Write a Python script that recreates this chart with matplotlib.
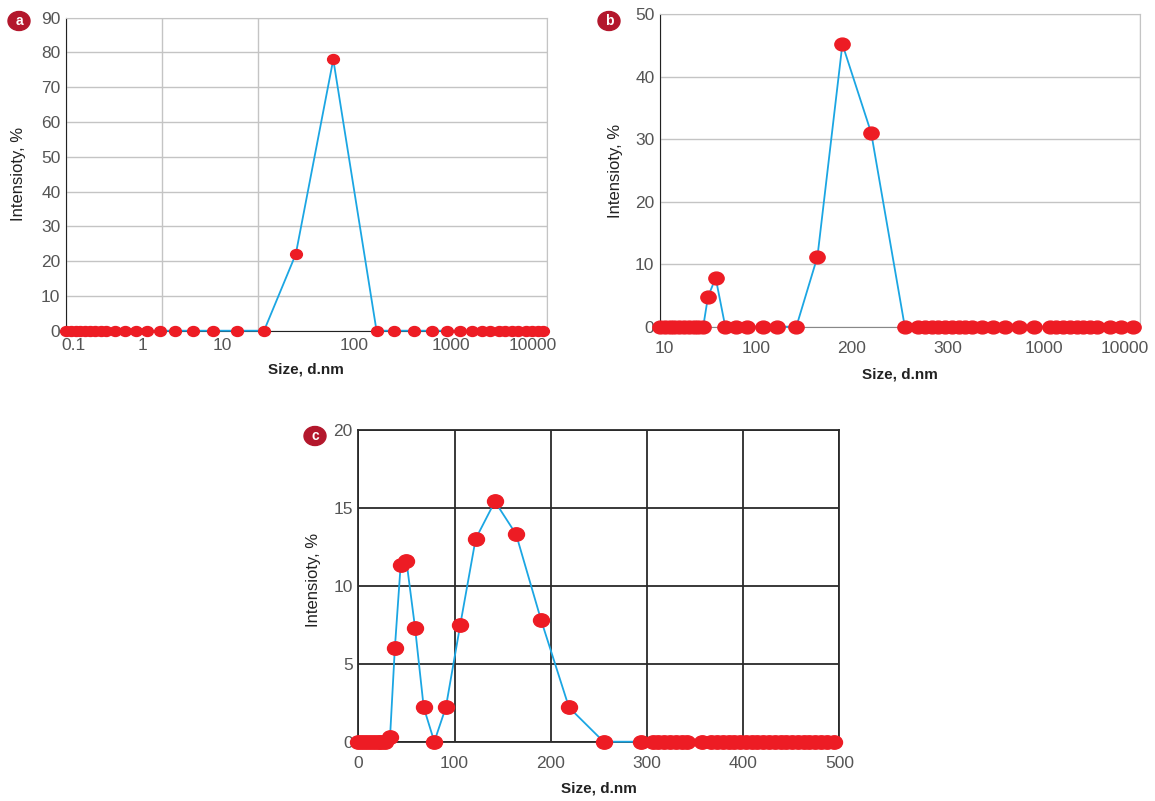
import numpy as np
import matplotlib
matplotlib.use("Agg")
import matplotlib.pyplot as plt
from matplotlib.patches import Ellipse
from matplotlib.path import Path

plt.rcParams['font.family'] = ['Liberation Sans', 'DejaVu Sans']

# panel a : positions along the (non-uniform) size axis, in grid cells
a_pos = [0.0, 0.05, 0.10, 0.15, 0.20, 0.25, 0.30, 0.36, 0.42, 0.51, 0.61, 0.73, 0.84,
         0.98, 1.13, 1.32, 1.53, 1.78, 2.06, 2.39, 2.78, 3.23, 3.41, 3.62, 3.81, 3.96,
         4.10, 4.22, 4.33, 4.41, 4.50, 4.57, 4.64, 4.70, 4.78, 4.85, 4.91, 4.96]
a_int = [0] * 19 + [22, 78] + [0] * 17
a_tickpos = [0.083, 0.80, 1.63, 3.0, 4.0, 4.85]
a_ticklab = ['0.1', '1', '10', '100', '1000', '10000']

# panel b
b_pos = [0.0, 0.05, 0.10, 0.15, 0.20, 0.25, 0.30, 0.35, 0.40, 0.45,
         0.50, 0.58, 0.68, 0.79, 0.91, 1.07, 1.22, 1.42, 1.64, 1.90, 2.20, 2.55,
         2.69, 2.76, 2.83, 2.90, 2.97, 3.04, 3.11, 3.18, 3.25,
         3.35, 3.47, 3.59, 3.74, 3.90,
         4.06, 4.13, 4.20, 4.27, 4.34, 4.41, 4.48, 4.55, 4.69, 4.80, 4.93]
b_int = [0] * 10 + [4.8, 7.8] + [0] * 6 + [11.2, 45.2, 31.0] + [0] * 26
b_tickpos = [0.05, 1, 2, 3, 4, 4.84]
b_ticklab = ['10', '100', '200', '300', '1000', '10000']

# panel c : real sizes, nm
c_size = [0, 4, 8, 12, 16, 20, 24, 28, 33, 38, 44, 50, 59, 68, 79, 91, 106, 122, 142,
          164, 190, 219, 255, 294, 306, 312, 318, 324, 330, 336, 342, 357, 367, 373,
          379, 385, 391, 397, 403, 409, 414, 421, 427, 433, 439, 445, 451, 457, 463,
          469, 475, 481, 487, 494]
c_int = [0] * 8 + [0.3, 6.0, 11.3, 11.6, 7.3, 2.2, 0, 2.2, 7.5, 13.0, 15.4, 13.3, 7.8,
                   2.2, 0] + [0] * 31

W, H = 1155, 801
fig = plt.figure(figsize=(W / 100, H / 100), dpi=100)

# slightly flattened circle marker
circ = Path.unit_circle()
oval = Path(circ.vertices * np.array([1.0, 0.84]), circ.codes)

red = '#ed1c24'
blue = '#1ba6e3'
tickc = '#555555'


def box(l, t, r, b):
    return [l / W, 1 - b / H, (r - l) / W, (b - t) / H]


def panel(rect, x, y, ms, gridc, gridw, ylab_xy, xlab_y):
    ax = fig.add_axes(rect)
    ax.plot(x, y, color=blue, lw=1.3, marker=oval, ms=ms, mfc=red, mec=red,
            zorder=4, clip_on=False)
    ax.tick_params(length=0, labelsize=12.5, colors=tickc)
    ax.tick_params(axis='y', pad=4)
    ax.grid(axis='y', color=gridc, lw=gridw)
    ax.set_axisbelow(True)
    ax.set_ylabel('Intensioty, %', fontsize=12, color='#222222')
    ax.set_xlabel('Size, d.nm', fontsize=11, color='#222222', fontweight='bold')
    ax.yaxis.set_label_coords(*ylab_xy)
    ax.xaxis.set_label_coords(0.5, xlab_y)
    return ax


# a
ax = panel(box(66, 17.7, 546.7, 330.7), a_pos, a_int, 8.5, '#c4c4c4', 1.0,
           (-0.083, 0.5), -0.103)
ax.set_xlim(0, 5)
ax.set_ylim(0, 90)
ax.set_yticks(range(0, 91, 10))
ax.set_xticks(a_tickpos)
ax.set_xticklabels(a_ticklab)
ax.set_xticks(range(6), minor=True)
ax.grid(which='minor', axis='x', color='#c4c4c4', lw=1.0)
ax.tick_params(which='minor', length=0)
ax.tick_params(axis='x', pad=5)
for s in ['top', 'right']:
    ax.spines[s].set_color('#c4c4c4')
ax.spines['left'].set_color('#222222')
ax.spines['bottom'].set_color('#222222')

# b
ax = panel(box(660, 14.2, 1140, 326.7), b_pos, b_int, 11, '#c4c4c4', 1.0,
           (-0.077, 0.5), -0.132)
ax.set_xlim(0, 5)
ax.set_ylim(0, 50)
ax.set_yticks(range(0, 51, 10))
ax.set_xticks(b_tickpos)
ax.set_xticklabels(b_ticklab)
ax.set_xticks(range(6), minor=True)
ax.grid(which='minor', axis='x', color='#c4c4c4', lw=1.0)
ax.tick_params(which='minor', length=0)
ax.tick_params(axis='x', pad=10)
for s in ['top', 'right']:
    ax.spines[s].set_color('#c4c4c4')
ax.spines['left'].set_color('#222222')
ax.spines['bottom'].set_color('#888888')

# c
ax = panel(box(358.3, 429.7, 839.3, 741.7), c_size, c_int, 11.5, '#2a2a2a', 1.3,
           (-0.077, 0.52), -0.126)
ax.set_xlim(0, 500)
ax.set_ylim(0, 20)
ax.set_yticks(range(0, 21, 5))
ax.set_xticks(range(0, 501, 100))
ax.grid(axis='x', color='#2a2a2a', lw=1.3)
ax.tick_params(axis='x', pad=10)
for s in ax.spines.values():
    s.set_color('#2a2a2a')
    s.set_linewidth(1.3)

# panel badges
for lab, (cx, cy) in zip(['a', 'b', 'c'], [(19, 21), (609, 21), (315, 436)]):
    fig.add_artist(Ellipse((cx / W, 1 - cy / H), 22 / W, 19 / H,
                           transform=fig.transFigure, color='#b3172c'))
    fig.text(cx / W, 1 - cy / H, lab, color='white', fontsize=10, fontweight='bold',
             ha='center', va='center')

fig.savefig('out.png', dpi=100)
